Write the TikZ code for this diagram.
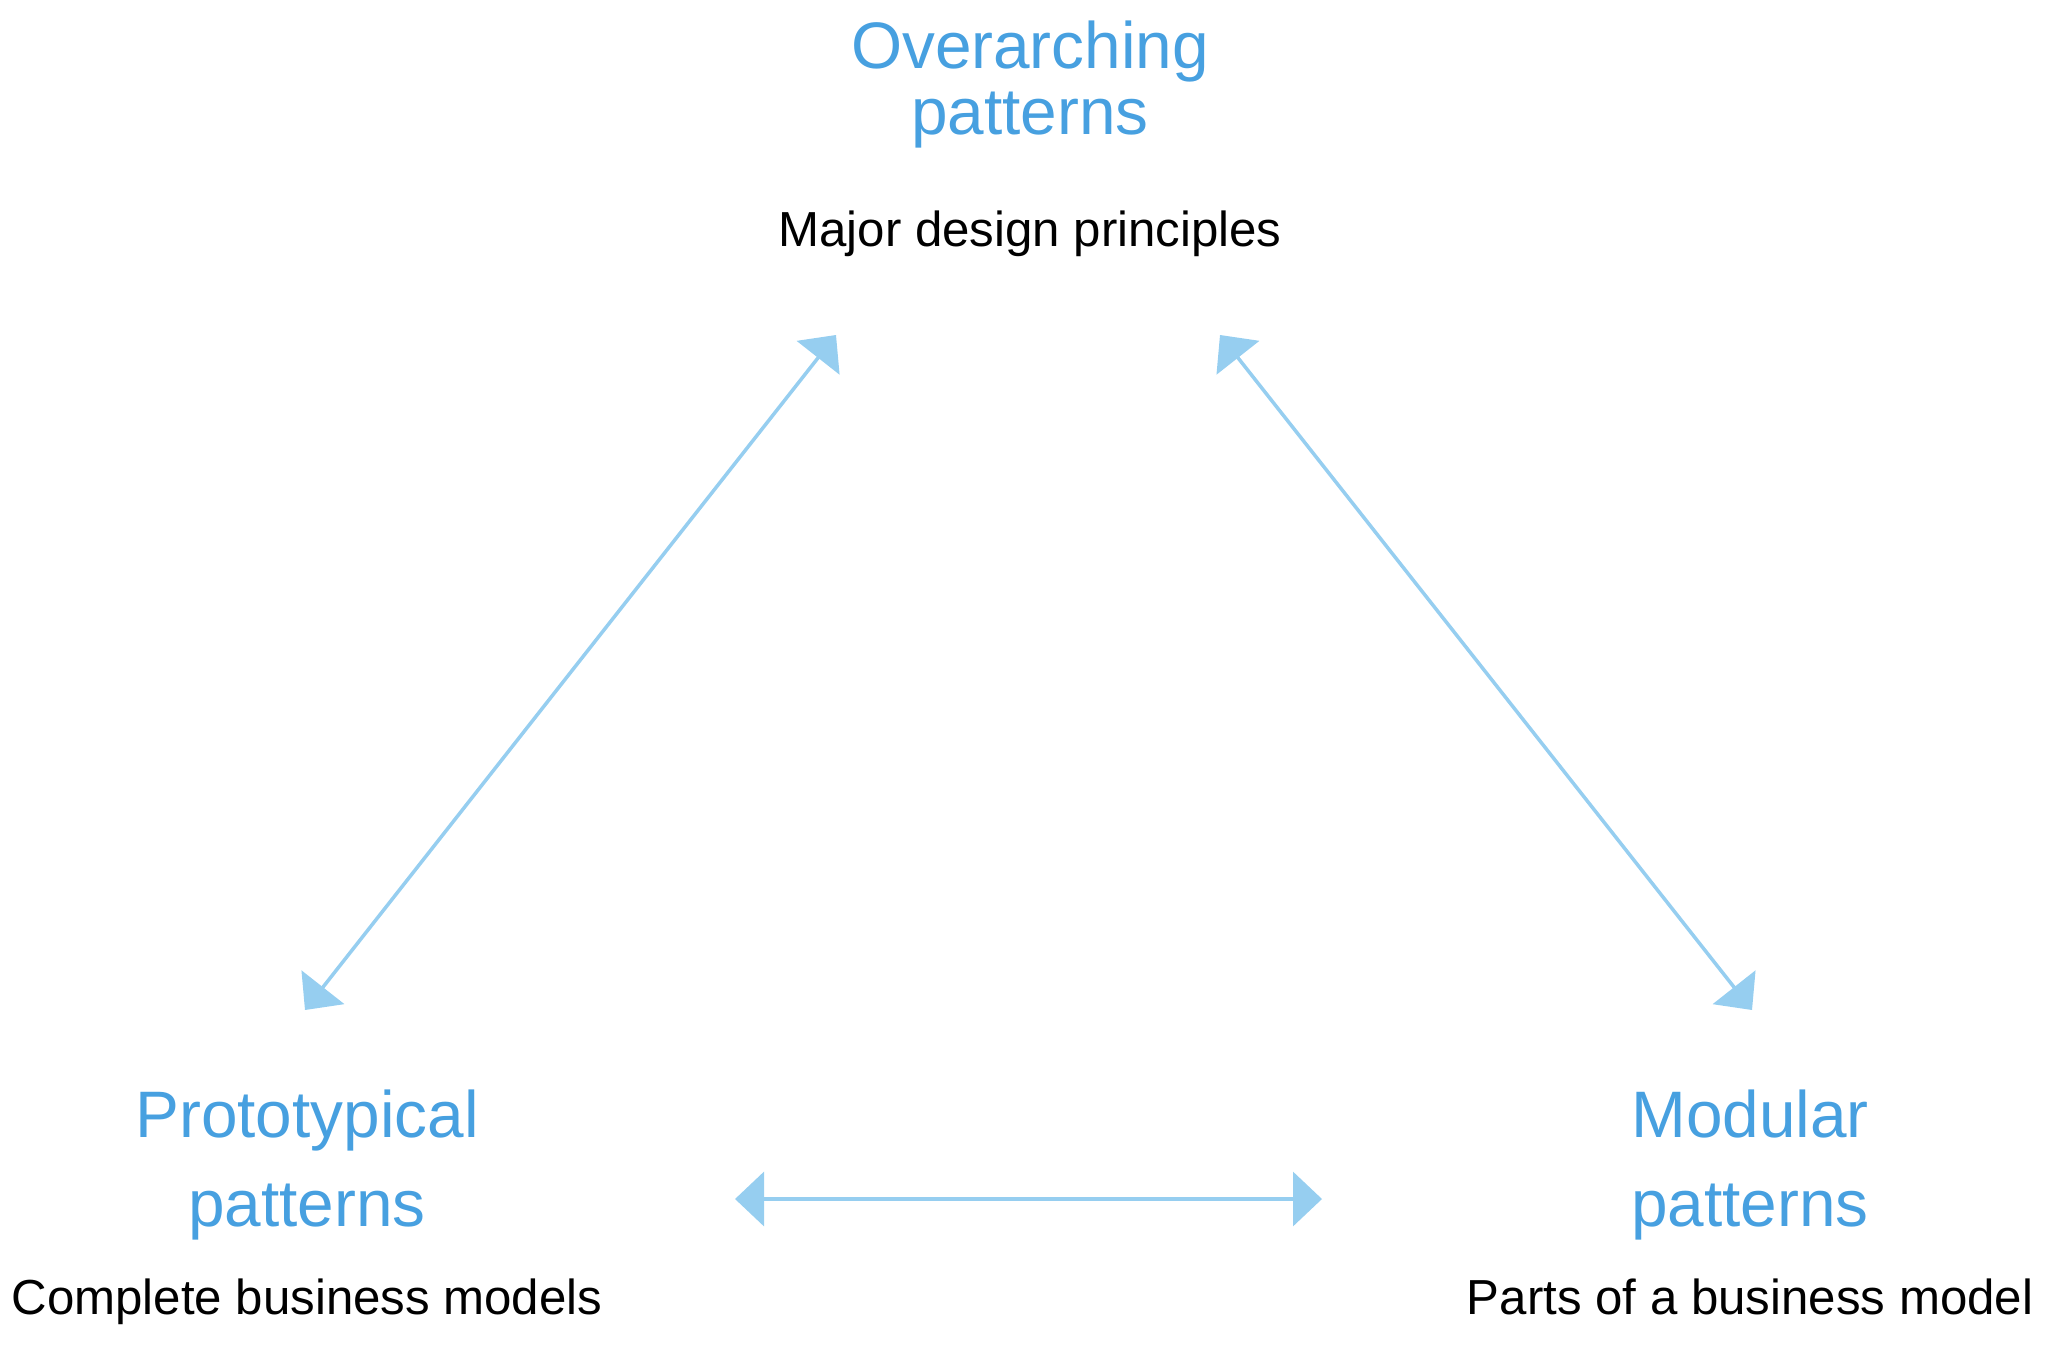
\documentclass[tikz,border=0pt]{standalone}
\usepackage{fontspec}
\setmainfont{Liberation Sans}
\usepackage{xcolor}
\definecolor{Title Blue}{HTML}{47A0E0}
\definecolor{Arrow Blue}{HTML}{96CEF0}
\colorlet{cTitle}{Title Blue}
\colorlet{cArrow}{Arrow Blue}
\usetikzlibrary{positioning, arrows.meta}
\tikzset{
	line width = 1pt,
	title/.style={
		align=center,
		text=cTitle,
		inner sep=0pt,
		anchor=base,
		font=\fontsize{18.7pt}{19pt}\selectfont
	},
	wide title/.style={
		title,
		font=\fontsize{18.7pt}{25.3pt}\selectfont
	},
	caption/.style={
		inner sep=0pt,
		font=\fontsize{14pt}{17pt}\selectfont
	},
	link/.style={
		{Triangle[length=2.9mm, width=5.4mm]}-{Triangle[length=2.9mm, width=5.4mm]},
		draw=cArrow,
		line width=1pt
	}
}

\begin{document}
\begin{tikzpicture}
\useasboundingbox (0,0) rectangle (20.5,13.5);

% ---
% Pattern levels
% ---
\node[title] at (10.30,12.15) (over) {Overarching\\patterns};
\node[caption, below=1.12cm of over.base, anchor=base] (overcap) {Major design principles};

\node[wide title] at (3.07,1.24) (proto) {Prototypical\\patterns};
\node[caption, below=0.88cm of proto.base, anchor=base] (protocap) {Complete business models};

\node[wide title] at (17.50,1.24) (modular) {Modular\\patterns};
\node[caption, below=0.88cm of modular.base, anchor=base] (modcap) {Parts of a business model};

\coordinate (overl) at (8.36,10.15);
\coordinate (overr) at (12.20,10.15);
\coordinate (protot) at (3.05,3.40);
\coordinate (protor) at (7.35,1.51);
\coordinate (modt) at (17.52,3.40);
\coordinate (modl) at (13.22,1.51);

\draw[link] (overl) to (protot);
\draw[link] (overr) to (modt);
\draw[link] (protor) to (modl);

\end{tikzpicture}
\end{document}
